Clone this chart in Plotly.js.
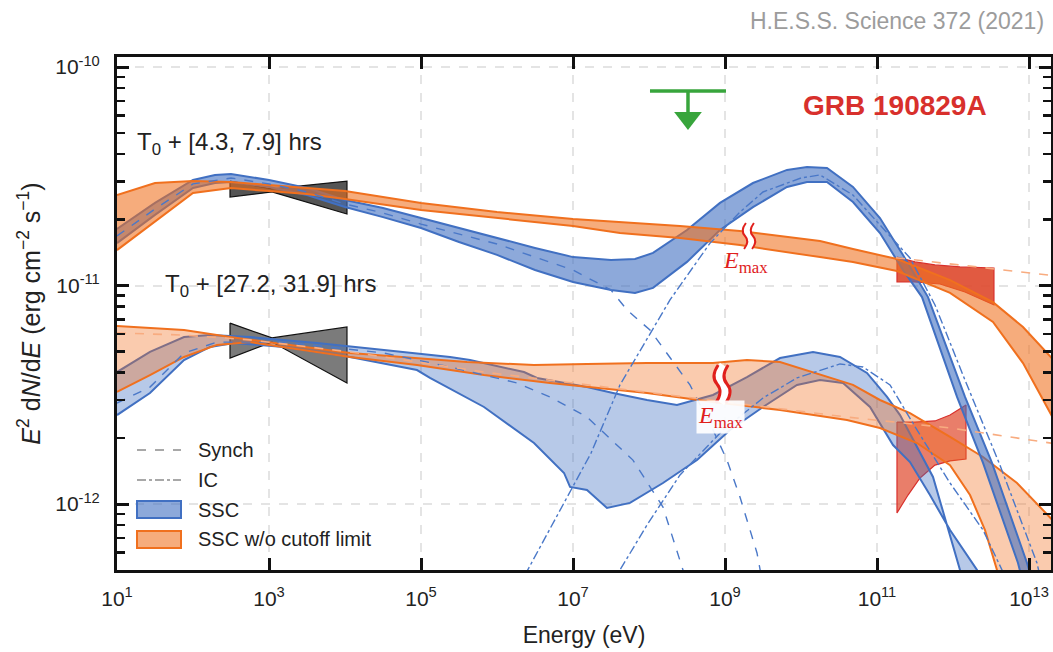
<!DOCTYPE html>
<html><head><meta charset="utf-8">
<script src="https://cdn.plot.ly/plotly-3.0.1.min.js"></script>
<style>html,body{margin:0;padding:0;background:#fff}#chart{width:1053px;height:652px}</style>
</head><body><div id="chart"></div>
<script>
// ===== values: log10(E / eV) and log10(E^2 dN/dE / erg cm^-2 s^-1) =====
// ---- early epoch T0 + [4.3, 7.9] hrs ----
const early_orange_hi_logE = [1.000,1.500,2.000,2.500,3.000,3.500,4.000,5.000,6.000,7.000,7.618,8.408,9.197,9.724,10.250,10.684,11.263,11.961,12.526,12.921,13.400];
const early_orange_hi_logF = [-10.586,-10.531,-10.522,-10.526,-10.540,-10.554,-10.568,-10.622,-10.664,-10.696,-10.709,-10.728,-10.751,-10.773,-10.796,-10.833,-10.879,-10.975,-11.076,-11.190,-11.370];
const early_orange_lo_logE = [1.000,1.500,2.000,2.500,3.000,3.500,4.000,5.000,6.000,7.000,7.618,8.408,9.197,9.724,10.250,10.684,11.263,11.961,12.526,12.921,13.400];
const early_orange_lo_logF = [-10.838,-10.709,-10.577,-10.554,-10.568,-10.581,-10.604,-10.654,-10.691,-10.728,-10.760,-10.783,-10.815,-10.842,-10.870,-10.892,-10.934,-11.034,-11.167,-11.355,-11.660];
const early_orange_synch_logE = [11.25,13.40];
const early_orange_synch_logF = [-10.873,-10.958];

const early_blue_hi_logE = [1.000,1.500,2.000,2.289,2.500,3.000,3.500,4.000,4.500,5.000,5.500,6.000,6.500,7.000,7.500,7.816,8.053,8.500,8.934,9.368,9.816,10.079,10.342,10.684,11.039,11.342,11.671,12.158,12.513,12.974,13.079];
const early_blue_hi_logF = [-10.741,-10.622,-10.517,-10.494,-10.490,-10.517,-10.554,-10.609,-10.645,-10.691,-10.737,-10.783,-10.828,-10.870,-10.883,-10.879,-10.851,-10.746,-10.622,-10.531,-10.471,-10.458,-10.462,-10.549,-10.691,-10.860,-11.053,-11.510,-11.812,-12.270,-12.394];
const early_blue_lo_logE = [1.000,1.500,2.000,2.289,2.500,3.000,3.500,4.000,4.500,5.000,5.500,6.000,6.500,7.000,7.500,7.816,8.053,8.500,8.934,9.368,9.816,10.079,10.342,10.684,11.039,11.342,11.592,12.053,12.395,12.855,12.947];
const early_blue_lo_logF = [-10.806,-10.677,-10.554,-10.531,-10.526,-10.549,-10.586,-10.641,-10.687,-10.737,-10.801,-10.860,-10.929,-10.984,-11.021,-11.034,-11.011,-10.892,-10.746,-10.641,-10.549,-10.526,-10.526,-10.618,-10.760,-10.929,-11.053,-11.510,-11.812,-12.270,-12.394];

const early_synch_logE = [1.000,1.500,2.000,2.500,3.000,3.500,4.000,4.500,5.000,5.500,6.000,6.500,7.000,7.500,7.711,8.013,8.539,8.842,9.026,9.197,9.421,9.487];
const early_synch_logF = [-10.773,-10.650,-10.535,-10.508,-10.535,-10.572,-10.627,-10.668,-10.719,-10.764,-10.810,-10.870,-10.929,-11.021,-11.112,-11.204,-11.455,-11.661,-11.799,-11.968,-12.224,-12.348];
const early_ic_logE = [6.368,7.237,7.618,8.118,8.276,8.803,9.197,9.500,10.000,10.250,10.684,11.039,11.434,11.763,12.158,12.618,13.105,13.171];
const early_ic_logF = [-12.325,-11.767,-11.455,-11.158,-11.066,-10.806,-10.664,-10.572,-10.508,-10.494,-10.586,-10.723,-10.874,-11.089,-11.433,-11.822,-12.270,-12.371];

const early_xray_logE = [2.487,3.039,4.026,4.026,3.039,2.487];
const early_xray_logF = [-10.522,-10.558,-10.522,-10.673,-10.572,-10.595];
const early_hess_logE = [11.263,11.500,11.763,12.092,12.539,12.539,12.158,11.829,11.500,11.263];
const early_hess_logF = [-10.870,-10.892,-10.906,-10.915,-10.920,-11.089,-11.030,-10.993,-10.984,-10.984];

// upper limit (green)
const ul_logE_span = [8.013,9.013];
const ul_logE = 8.513;
const ul_logF = -10.110;

// ---- late epoch T0 + [27.2, 31.9] hrs ----
const late_orange_hi_logE = [1.000,1.882,2.487,4.066,5.605,6.487,7.184,7.974,8.842,9.289,9.724,10.158,10.684,11.039,11.434,11.961,12.395,12.842,13.300,13.500];
const late_orange_hi_logF = [-11.185,-11.204,-11.236,-11.309,-11.350,-11.364,-11.359,-11.355,-11.355,-11.341,-11.350,-11.396,-11.455,-11.524,-11.584,-11.693,-11.785,-11.904,-12.070,-12.160];
const late_orange_lo_logE = [1.000,1.434,1.882,2.316,2.750,4.066,4.947,5.829,6.697,7.184,7.974,8.842,9.724,10.605,11.039,11.526,11.961,12.224,12.421,12.579,12.618,12.750];
const late_orange_lo_logF = [-11.487,-11.410,-11.327,-11.272,-11.259,-11.327,-11.364,-11.410,-11.446,-11.465,-11.492,-11.533,-11.570,-11.616,-11.652,-11.721,-11.822,-11.959,-12.119,-12.302,-12.394,-13.000];
const late_orange_synch_logE = [1.000,1.882,2.750,4.066,5.829,6.697,10.605,11.961,13.400];
const late_orange_synch_logF = [-11.217,-11.227,-11.249,-11.304,-11.396,-11.433,-11.602,-11.652,-11.727];

const late_blue_hi_logE = [1.000,1.434,1.882,2.224,2.750,3.632,4.513,5.382,5.645,6.039,6.355,6.526,7.184,7.526,7.974,8.368,8.842,9.289,9.724,10.158,10.513,10.868,11.132,11.303,11.737,12.092,12.132];
const late_blue_hi_logF = [-11.396,-11.304,-11.236,-11.227,-11.236,-11.263,-11.295,-11.327,-11.341,-11.373,-11.396,-11.423,-11.465,-11.492,-11.524,-11.547,-11.501,-11.419,-11.332,-11.304,-11.327,-11.400,-11.510,-11.593,-11.876,-12.302,-12.394];
const late_blue_lo_logE = [1.000,1.434,1.882,2.224,2.539,3.197,4.066,4.947,5.118,5.829,6.487,6.882,6.961,7.184,7.447,7.750,8.184,8.632,9.066,9.500,9.947,10.250,10.553,10.908,11.211,11.434,11.697,11.961,12.316,12.355];
const late_blue_lo_logF = [-11.593,-11.492,-11.341,-11.281,-11.263,-11.281,-11.327,-11.387,-11.423,-11.556,-11.721,-11.858,-11.922,-11.936,-12.018,-11.995,-11.904,-11.799,-11.661,-11.556,-11.455,-11.433,-11.446,-11.556,-11.730,-11.808,-11.959,-12.119,-12.302,-12.394];

const late_synch_logE = [1.000,1.434,1.882,2.316,3.197,4.513,5.382,6.263,6.697,7.184,7.789,8.184,8.447,8.487];
const late_synch_logF = [-11.538,-11.465,-11.309,-11.259,-11.259,-11.309,-11.373,-11.446,-11.510,-11.602,-11.799,-12.014,-12.302,-12.394];
const late_ic_logE = [7.513,7.618,7.974,8.408,8.974,9.500,9.947,10.513,10.816,11.171,11.526,11.961,12.395,12.645,12.684];
const late_ic_logF = [-12.371,-12.302,-12.096,-11.867,-11.661,-11.515,-11.423,-11.359,-11.373,-11.455,-11.661,-11.904,-12.119,-12.302,-12.394];

const late_xray_logE = [2.487,3.039,4.026,4.026,3.039,2.487];
const late_xray_logF = [-11.172,-11.240,-11.190,-11.446,-11.259,-11.332];
const late_hess_logE = [11.263,11.500,11.763,11.961,12.171,12.171,11.961,11.763,11.566,11.408,11.263];
const late_hess_logF = [-11.625,-11.625,-11.620,-11.593,-11.547,-11.794,-11.803,-11.822,-11.881,-11.959,-12.041];

// ---- axes ticks / legend labels ----
const xTickVals = [1e1,1e3,1e5,1e7,1e9,1e11,1e13];
const xTickText = ['10<sup>1</sup>','10<sup>3</sup>','10<sup>5</sup>','10<sup>7</sup>','10<sup>9</sup>','10<sup>11</sup>','10<sup>13</sup>'];
const yTickVals = [1e-12,1e-11,1e-10];
const yTickText = ['10<sup>-12</sup>','10<sup>-11</sup>','10<sup>-10</sup>'];
const yMinorVals = [5e-13,6e-13,7e-13,8e-13,9e-13,2e-12,3e-12,4e-12,5e-12,6e-12,7e-12,8e-12,9e-12,2e-11,3e-11,4e-11,5e-11,6e-11,7e-11,8e-11,9e-11];
const legendLabels = ['Synch','IC','SSC','SSC w/o cutoff limit'];

// ===== styling =====
const BLUE = '#4170c2', ORANGE = '#f0701e';
const BLUE_FILL_EARLY = 'rgba(65,112,194,0.6)', ORANGE_FILL_EARLY = 'rgba(240,112,30,0.58)';
const P = a => a.map(v => Math.pow(10, v));
const rev = a => a.slice().reverse();

function band(hiE, hiF, loE, loF, fillcolor, linecolor, name) {
  return {type:'scatter', mode:'lines', x:P(hiE.concat(rev(loE))), y:P(hiF.concat(rev(loF))),
    fill:'toself', fillcolor:fillcolor, line:{color:linecolor, width:2}, name:name, showlegend:false, hoverinfo:'skip'};
}
function curve(E, F, color, dash, width, name) {
  return {type:'scatter', mode:'lines', x:P(E), y:P(F), line:{color:color, dash:dash, width:width},
    name:name, showlegend:false, hoverinfo:'skip'};
}
function poly(E, F, fill, line, name) {
  return {type:'scatter', mode:'lines', x:P(E.concat([E[0]])), y:P(F.concat([F[0]])), fill:'toself',
    fillcolor:fill, line:{color:line, width:1.2}, name:name, showlegend:false, hoverinfo:'skip'};
}

const traces = [
  poly(early_xray_logE, early_xray_logF, '#555555', '#111111', 'X-ray early'),
  poly(late_xray_logE, late_xray_logF, '#7b7b7b', '#111111', 'X-ray late'),
  poly(early_hess_logE, early_hess_logF, 'rgba(222,72,44,0.9)', '#d8302c', 'H.E.S.S. early'),
  poly(late_hess_logE, late_hess_logF, 'rgba(224,76,48,0.72)', '#d8302c', 'H.E.S.S. late'),
  band(late_blue_hi_logE, late_blue_hi_logF, late_blue_lo_logE, late_blue_lo_logF, 'rgba(65,112,194,0.38)', BLUE, 'SSC'),
  band(late_orange_hi_logE, late_orange_hi_logF, late_orange_lo_logE, late_orange_lo_logF, 'rgba(240,112,30,0.36)', ORANGE, 'SSC w/o cutoff limit'),
  band(early_blue_hi_logE, early_blue_hi_logF, early_blue_lo_logE, early_blue_lo_logF, BLUE_FILL_EARLY, BLUE, 'SSC'),
  band(early_orange_hi_logE, early_orange_hi_logF, early_orange_lo_logE, early_orange_lo_logF, ORANGE_FILL_EARLY, ORANGE, 'SSC w/o cutoff limit'),
  curve(early_synch_logE, early_synch_logF, '#4a78c8', 'dash', 1.4, 'Synch'),
  curve(early_ic_logE, early_ic_logF, '#4a78c8', 'dashdot', 1.4, 'IC'),
  curve(late_synch_logE, late_synch_logF, '#4a78c8', 'dash', 1.4, 'Synch'),
  curve(late_ic_logE, late_ic_logF, '#4a78c8', 'dashdot', 1.4, 'IC'),
  curve(early_orange_synch_logE, early_orange_synch_logF, '#f8ac80', 'dash', 1.6, 'Synch'),
  curve(late_orange_synch_logE, late_orange_synch_logF, '#f8ac80', 'dash', 1.6, 'Synch'),
  // upper limit
  {type:'scatter', mode:'lines', x:P(ul_logE_span), y:P([ul_logF, ul_logF]), line:{color:'#38a53c', width:3.5}, showlegend:false, hoverinfo:'skip'},
  {type:'scatter', mode:'lines', x:P([ul_logE, ul_logE]), y:P([ul_logF, ul_logF - 0.105]), line:{color:'#38a53c', width:3.5}, showlegend:false, hoverinfo:'skip'},
  {type:'scatter', mode:'markers', x:P([ul_logE]), y:P([ul_logF - 0.123]), marker:{symbol:'triangle-down', size:24, color:'#38a53c'}, showlegend:false, hoverinfo:'skip'}
];

// ===== layout helpers (pixel -> paper) =====
const PL = 117, PR = 1051, PT = 57, PB = 570;
const px = v => (v - PL) / (PR - PL);
const py = v => (PB - v) / (PB - PT);
function squig(cx, cy, h, a) {
  const t = cy - h/2, b = cy + h/2;
  const pts = [[cx + a*0.3, t],[cx - a, t + h*0.2],[cx - a, t + h*0.38],[cx, cy],[cx + a, cy + h*0.12],[cx + a, cy + h*0.3],[cx - a*0.3, b]];
  const f = p => px(p[0]).toFixed(5) + ',' + py(p[1]).toFixed(5);
  return 'M' + f(pts[0]) + ' C' + f(pts[1]) + ' ' + f(pts[2]) + ' ' + f(pts[3]) + ' C' + f(pts[4]) + ' ' + f(pts[5]) + ' ' + f(pts[6]);
}
const RED = '#e0201c';
const shapes = [
  {type:'path', xref:'paper', yref:'paper', path:squig(749, 236, 26, 3), line:{color:'white', width:6}},
  {type:'path', xref:'paper', yref:'paper', path:squig(745, 236, 26, 3), line:{color:RED, width:2}},
  {type:'path', xref:'paper', yref:'paper', path:squig(753, 236, 26, 3), line:{color:RED, width:2}},
  {type:'path', xref:'paper', yref:'paper', path:squig(722, 384, 38, 4), line:{color:'white', width:8}},
  {type:'path', xref:'paper', yref:'paper', path:squig(717, 384, 38, 4), line:{color:RED, width:3}},
  {type:'path', xref:'paper', yref:'paper', path:squig(727, 384, 38, 4), line:{color:RED, width:3}},
  // legend keys
  {type:'line', xref:'paper', yref:'paper', x0:px(137), x1:px(181), y0:py(450), y1:py(450), line:{color:'#8c8c8c', width:1.6, dash:'dash'}},
  {type:'line', xref:'paper', yref:'paper', x0:px(137), x1:px(181), y0:py(480), y1:py(480), line:{color:'#8c8c8c', width:1.6, dash:'dashdot'}},
  {type:'rect', xref:'paper', yref:'paper', x0:px(137), x1:px(181), y0:py(501), y1:py(518), fillcolor:BLUE_FILL_EARLY, line:{color:BLUE, width:2}},
  {type:'rect', xref:'paper', yref:'paper', x0:px(137), x1:px(181), y0:py(531), y1:py(548), fillcolor:ORANGE_FILL_EARLY, line:{color:ORANGE, width:2}}
];

const legendY = [450, 480, 510, 539];
const annotations = [
  {xref:'paper', yref:'paper', x:px(135), y:py(143), xanchor:'left', yanchor:'middle', showarrow:false,
   text:'T<sub>0</sub> + [4.3, 7.9] hrs', font:{size:24, color:'#222'}},
  {xref:'paper', yref:'paper', x:px(163), y:py(285), xanchor:'left', yanchor:'middle', showarrow:false,
   text:'T<sub>0</sub> + [27.2, 31.9] hrs', font:{size:24, color:'#222'}},
  {xref:'paper', yref:'paper', x:px(895), y:py(105), xanchor:'center', yanchor:'middle', showarrow:false,
   text:'<b>GRB 190829A</b>', font:{size:28, color:'#d8302c'}},
  {xref:'paper', yref:'paper', x:px(1046), y:py(21), xanchor:'right', yanchor:'middle', showarrow:false,
   text:'H.E.S.S. Science 372 (2021)', font:{family:'Liberation Sans Narrow, Arial Narrow, Liberation Sans, Arial, sans-serif', size:23, color:'#9c9c9c'}},
  {xref:'paper', yref:'paper', x:px(745), y:py(262), xanchor:'center', yanchor:'middle', showarrow:false,
   text:'<i>E</i><sub>max</sub>', font:{family:'Liberation Serif, DejaVu Serif, serif', size:24, color:RED}},
  {xref:'paper', yref:'paper', x:px(720), y:py(417), xanchor:'center', yanchor:'middle', showarrow:false,
   text:'<i>E</i><sub>max</sub>', bgcolor:'rgba(255,255,255,0.92)', borderpad:1,
   font:{family:'Liberation Serif, DejaVu Serif, serif', size:24, color:RED}}
].concat(legendLabels.map((t, i) => ({xref:'paper', yref:'paper', x:px(196), y:py(legendY[i]), xanchor:'left', yanchor:'middle',
   showarrow:false, text:t, font:{size:20, color:'#222'}})));

const axisCommon = {type:'log', ticks:'inside', tickwidth:3, tickcolor:'#111', showline:true, linecolor:'#111', linewidth:3,
  mirror:'ticks', showgrid:true, gridcolor:'#e4e4e4', griddash:'dash', gridwidth:2, zeroline:false,
  tickmode:'array', tickfont:{size:21, color:'#222'}};

const layout = {
  width:1053, height:652,
  margin:{l:PL, r:1053-PR, t:PT, b:652-PB},
  paper_bgcolor:'white', plot_bgcolor:'white',
  font:{family:'Liberation Sans, Arial, Helvetica, sans-serif', color:'#222', size:20},
  hovermode:false,
  showlegend:false,
  xaxis:Object.assign({}, axisCommon, {range:[1, 1 + (PR-PL)/76], tickvals:xTickVals, ticktext:xTickText, ticklen:12,
    ticklabelstandoff:8,
    title:{text:'Energy (eV)', font:{size:23, color:'#222'}, standoff:18}}),
  yaxis:Object.assign({}, axisCommon, {range:[-10 - (PB-67)/218.5, -10 + (67-PT)/218.5], tickvals:yTickVals, ticktext:yTickText, ticklen:12,
    ticklabelstandoff:10,
    minor:{tickmode:'array', tickvals:yMinorVals, ticks:'inside', ticklen:8, tickwidth:2.5, tickcolor:'#111', showgrid:false},
    title:{text:'<i>E</i><sup>2</sup> d<i>N</i>/d<i>E</i> (erg cm<sup>−2</sup> s<sup>−1</sup>)', font:{size:25, color:'#222'}, standoff:8}}),
  shapes:shapes,
  annotations:annotations
};

Plotly.newPlot('chart', traces, layout, {displayModeBar:false, staticPlot:true});
</script>
</body></html>
